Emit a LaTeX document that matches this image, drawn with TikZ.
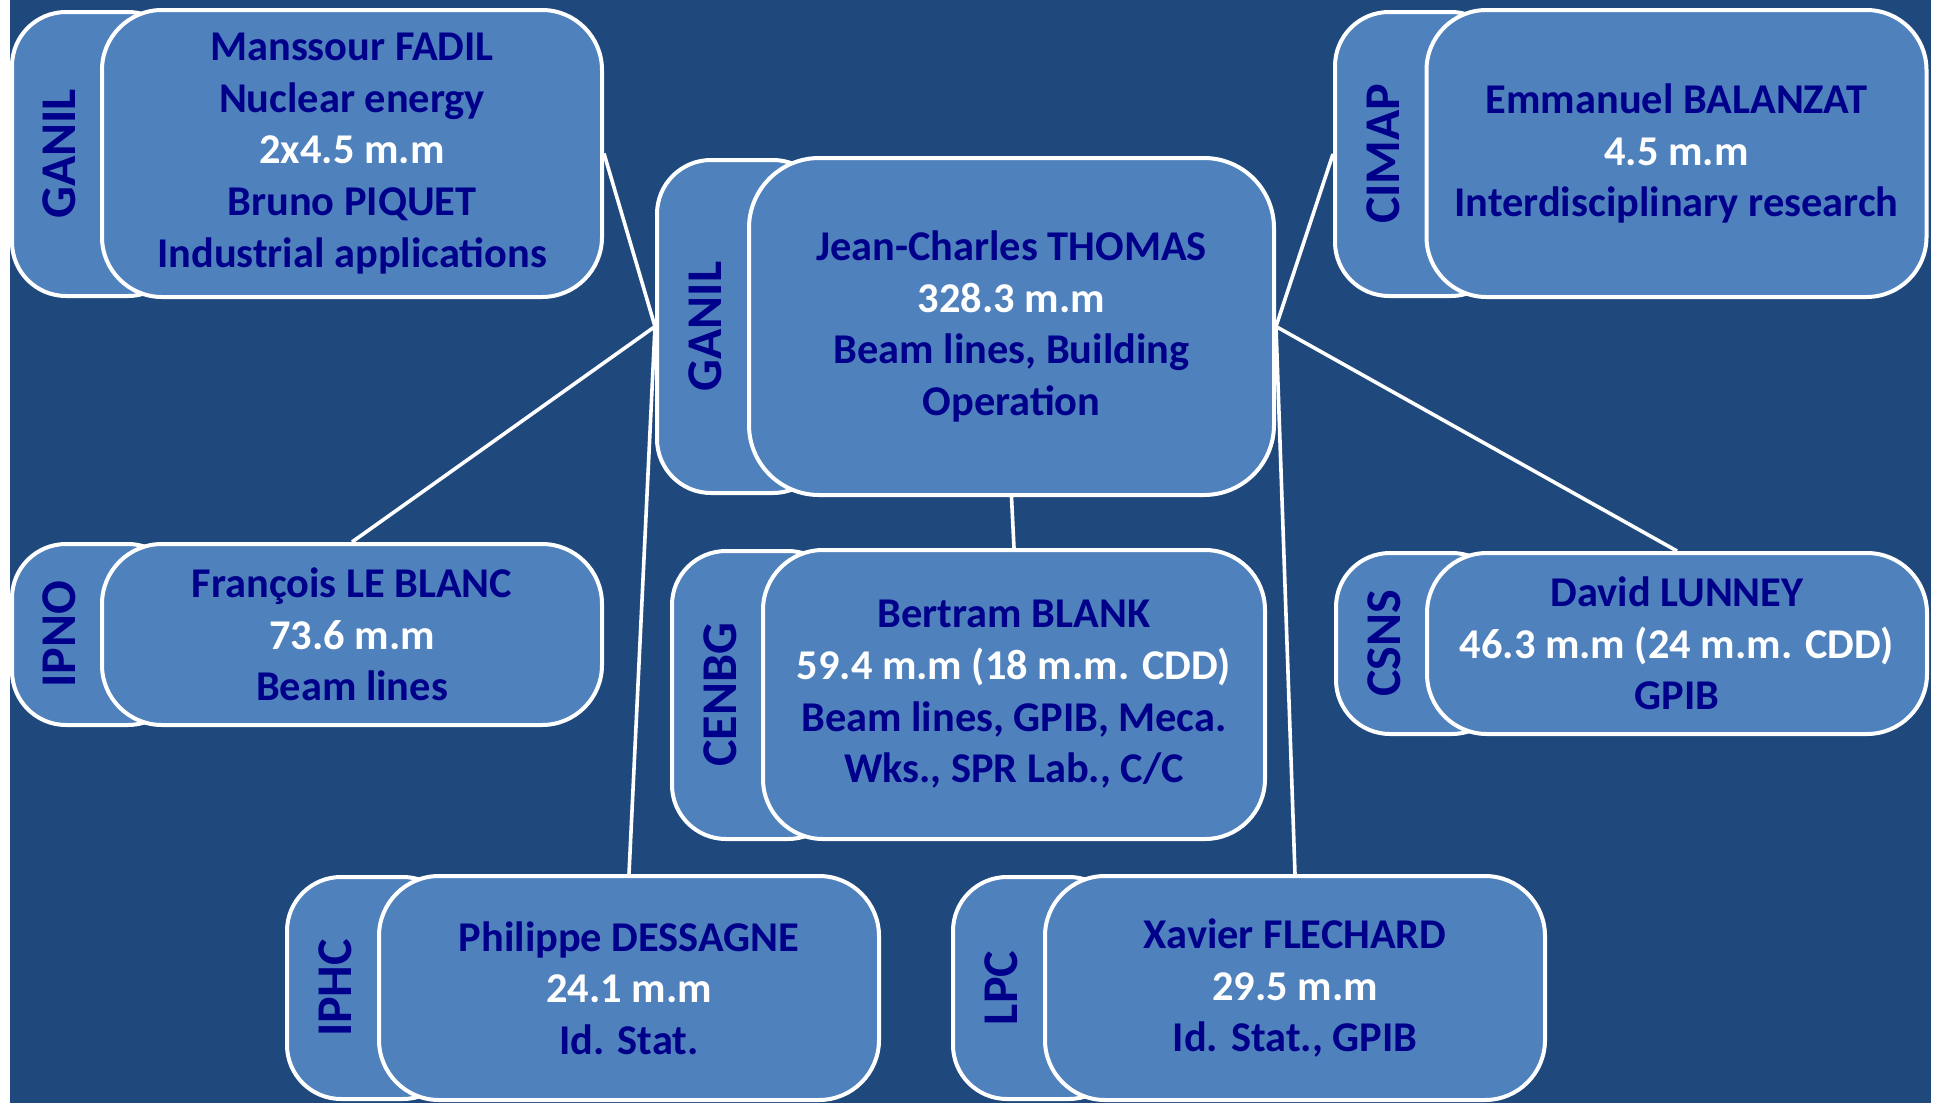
\documentclass[tikz,border=0pt]{standalone}
\usepackage{fontspec}
\setmainfont{Carlito}
\definecolor{DeepBlue}{RGB}{31,73,125}
\definecolor{CardBlue}{RGB}{79,129,189}
\definecolor{InkBlue}{RGB}{0,0,139}
\usetikzlibrary{calc}
\tikzset{
  tabbox/.style={draw=white, fill=CardBlue, line width=2pt, rounded corners=27pt,
    minimum width=85pt, inner sep=0pt},
  mainbox/.style={draw=white, fill=CardBlue, line width=2pt, rounded corners=30pt,
    minimum width=250pt, inner sep=0pt, align=center, text=InkBlue,
    font=\fontsize{21.2}{25.8}\selectfont\bfseries},
  tablabel/.style={rotate=90, text=InkBlue, inner sep=0pt,
    font=\fontsize{25}{30}\selectfont\bfseries},
  link/.style={draw=white, line width=1.8pt},
}
\newcommand{\mmval}[1]{\textcolor{white}{#1}}

\begin{document}
\begin{tikzpicture}[x=0.5pt, y=-0.5pt]
\useasboundingbox (0,0) rectangle (1934,1103);
\fill[white] (0,0) rectangle (1934,1103);
\fill[DeepBlue] (10,0) rectangle (1931,1103);

% GANIL (top left)
\node[tabbox, minimum height=142pt] (t1) at (97,154) {};
\node[mainbox, minimum height=143.5pt] (m1) at (352,153.5)
  {Manssour FADIL\\ Nuclear energy\\ \mmval{2x4.5 m.m}\\ Bruno PIQUET\\ Industrial applications};
\node[tablabel] (l1) at ($(t1.west)!0.55!(m1.west)$) {GANIL};

% GANIL (centre)
\node[tabbox, minimum height=166.5pt] (t2) at (742,326.5) {};
\node[mainbox, minimum width=262.5pt, minimum height=168.5pt, rounded corners=35pt] (m2) at (1011.5,326.5)
  {Jean-Charles THOMAS\\ \mmval{328.3 m.m}\\ Beam lines, Building\\ Operation};
\node[tablabel] (l2) at ($(t2.west)!0.55!(m2.west)$) {GANIL};

% CIMAP
\node[tabbox, minimum height=142pt] (t3) at (1420,154) {};
\node[mainbox, minimum height=143.5pt] (m3) at (1676.5,153.5)
  {Emmanuel BALANZAT\\ \mmval{4.5 m.m}\\ Interdisciplinary research};
\node[tablabel] (l3) at ($(t3.west)!0.55!(m3.west)$) {CIMAP};

% IPNO
\node[tabbox, minimum height=90.5pt] (t4) at (97,634.5) {};
\node[mainbox, minimum height=90.5pt] (m4) at (352,634.5)
  {François LE BLANC\\ \mmval{73.6 m.m}\\ Beam lines};
\node[tablabel] (l4) at ($(t4.west)!0.55!(m4.west)$) {IPNO};

% CENBG
\node[tabbox, minimum height=144pt] (t5) at (757,695) {};
\node[mainbox, minimum width=251pt, minimum height=144.5pt] (m5) at (1014,694.5)
  {Bertram BLANK\\ \mmval{59.4 m.m (18 m.m. CDD)}\\ Beam lines, GPIB, Meca.\\ Wks., SPR Lab., C/C};
\node[tablabel] (l5) at ($(t5.west)!0.55!(m5.west)$) {CENBG};

% CSNS
\node[tabbox, minimum height=90.5pt] (t6) at (1421,643.5) {};
\node[mainbox, minimum height=90.5pt] (m6) at (1677,643.5)
  {David LUNNEY\\ \mmval{46.3 m.m (24 m.m. CDD)}\\ GPIB};
\node[tablabel] (l6) at ($(t6.west)!0.55!(m6.west)$) {CSNS};

% IPHC
\node[tabbox, minimum height=111pt] (t7) at (372,988) {};
\node[mainbox, minimum height=112pt] (m7) at (629,988)
  {Philippe DESSAGNE\\ \mmval{24.1 m.m}\\ Id. Stat.};
\node[tablabel] (l7) at ($(t7.west)!0.55!(m7.west)$) {IPHC};

% LPC
\node[tabbox, minimum height=111pt] (t8) at (1038,988) {};
\node[mainbox, minimum height=112pt] (m8) at (1295,988)
  {Xavier FLECHARD\\ \mmval{29.5 m.m}\\ Id. Stat., GPIB};
\node[tablabel] (l8) at ($(t8.west)!0.55!(m8.west)$) {LPC};

% links
\draw[link] (t2.west) -- (m1.east);
\draw[link] (t2.west) -- (m4.north);
\draw[link] (t2.west) -- (m7.north);
\draw[link] (m2.east) -- (t3.west);
\draw[link] (m2.east) -- (m6.north);
\draw[link] (m2.east) -- (m8.north);
\draw[link] (m2.south) -- (m5.north);
\end{tikzpicture}
\end{document}
